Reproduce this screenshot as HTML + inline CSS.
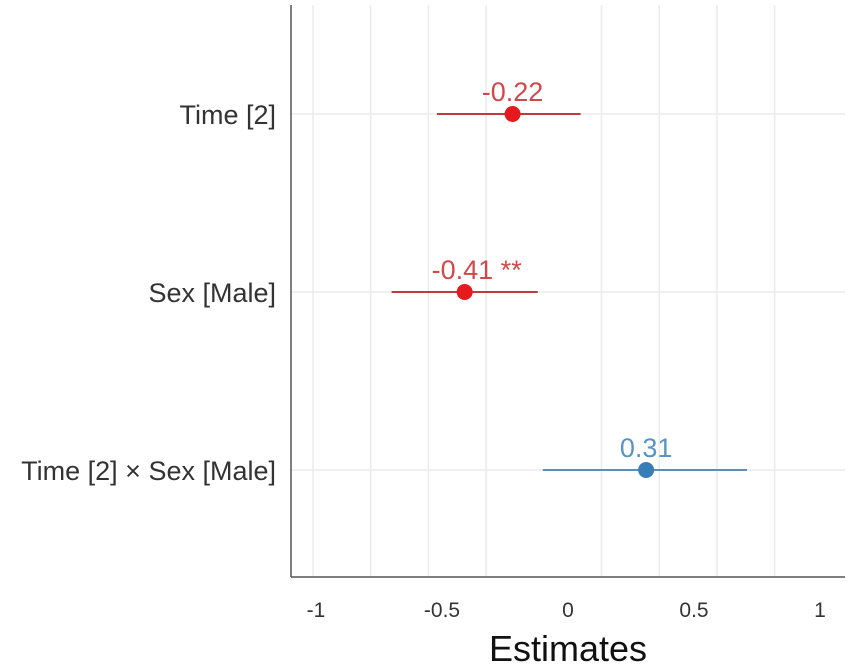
<!DOCTYPE html>
<html><head><meta charset="utf-8"><style>
body{margin:0;background:#fff;}
svg{display:block;font-family:"Liberation Sans",sans-serif;}
</style></head><body>
<svg id="chart" width="851" height="670"></svg>
<script>
const terms = ["Time [2]", "Sex [Male]", "Time [2] × Sex [Male]"];
const estimates = [-0.22, -0.41, 0.31];
const ciLow = [-0.52, -0.70, -0.10];
const ciHigh = [0.05, -0.12, 0.71];
const valueLabels = ["-0.22", "-0.41 **", "0.31"];
const xTicks = [-1, -0.5, 0, 0.5, 1];
const xTickLabels = ["-1", "-0.5", "0", "0.5", "1"];

const NS = "http://www.w3.org/2000/svg";
const svg = document.getElementById("chart");
function X(v){ return 568 + v * 252; }
function Y(i){ return 114 + i * 178; }
function mk(tag, attrs, parent){
  const e = document.createElementNS(NS, tag);
  for (const k in attrs) e.setAttribute(k, attrs[k]);
  (parent || svg).appendChild(e);
  return e;
}
for (let i = 0; i < 9; i++) {
  if (i === 4) continue;
  const gx = 313 + i * 57.7;
  const g = mk("line", {x1: gx, x2: gx, y1: 5, y2: 577, stroke: "#ebebeb", "stroke-width": 1.5});
  
  
}
terms.forEach((t, i) => {
  const g = mk("line", {x1: 291, x2: 845, y1: Y(i), y2: Y(i), stroke: "#ebebeb", "stroke-width": 1.5});
  
  
});
const ya = mk("line", {x1: 291, x2: 291, y1: 5, y2: 577, stroke: "#555", "stroke-width": 1.5});


const xa = mk("line", {x1: 291, x2: 845, y1: 577, y2: 577, stroke: "#555", "stroke-width": 1.5});


xTicks.forEach((v, i) => {
  const t = mk("text", {x: X(v), y: 617, "text-anchor": "middle", "font-size": 21, fill: "#333"});
  t.textContent = xTickLabels[i];
  
  
});
const xt = mk("text", {x: 568, y: 661, "text-anchor": "middle", "font-size": 36, fill: "#111"});
xt.textContent = "Estimates";



terms.forEach((t, i) => {
  const pos = estimates[i] >= 0;
  const lineC = pos ? "#5b8fb8" : "#c0393b";
  const dotC = pos ? "#377eb8" : "#e41a1c";
  const txtC = pos ? "#5a93c4" : "#d0484a";
  const lab = mk("text", {x: 276, y: Y(i) + 10, "text-anchor": "end", "font-size": 27, fill: "#333"});
  lab.textContent = t;
  
  
  const ci = mk("line", {x1: X(ciLow[i]), x2: X(ciHigh[i]), y1: Y(i), y2: Y(i), stroke: lineC, "stroke-width": 2});
  
  
  const d = mk("circle", {cx: X(estimates[i]), cy: Y(i), r: 8, fill: dotC});
  
  
  const v = mk("text", {x: X(estimates[i]) + (valueLabels[i].includes("*") ? 12 : 0), y: Y(i) - 13, "text-anchor": "middle", "font-size": 27, fill: txtC});
  v.textContent = valueLabels[i];
  
  
});
</script>
</body></html>
